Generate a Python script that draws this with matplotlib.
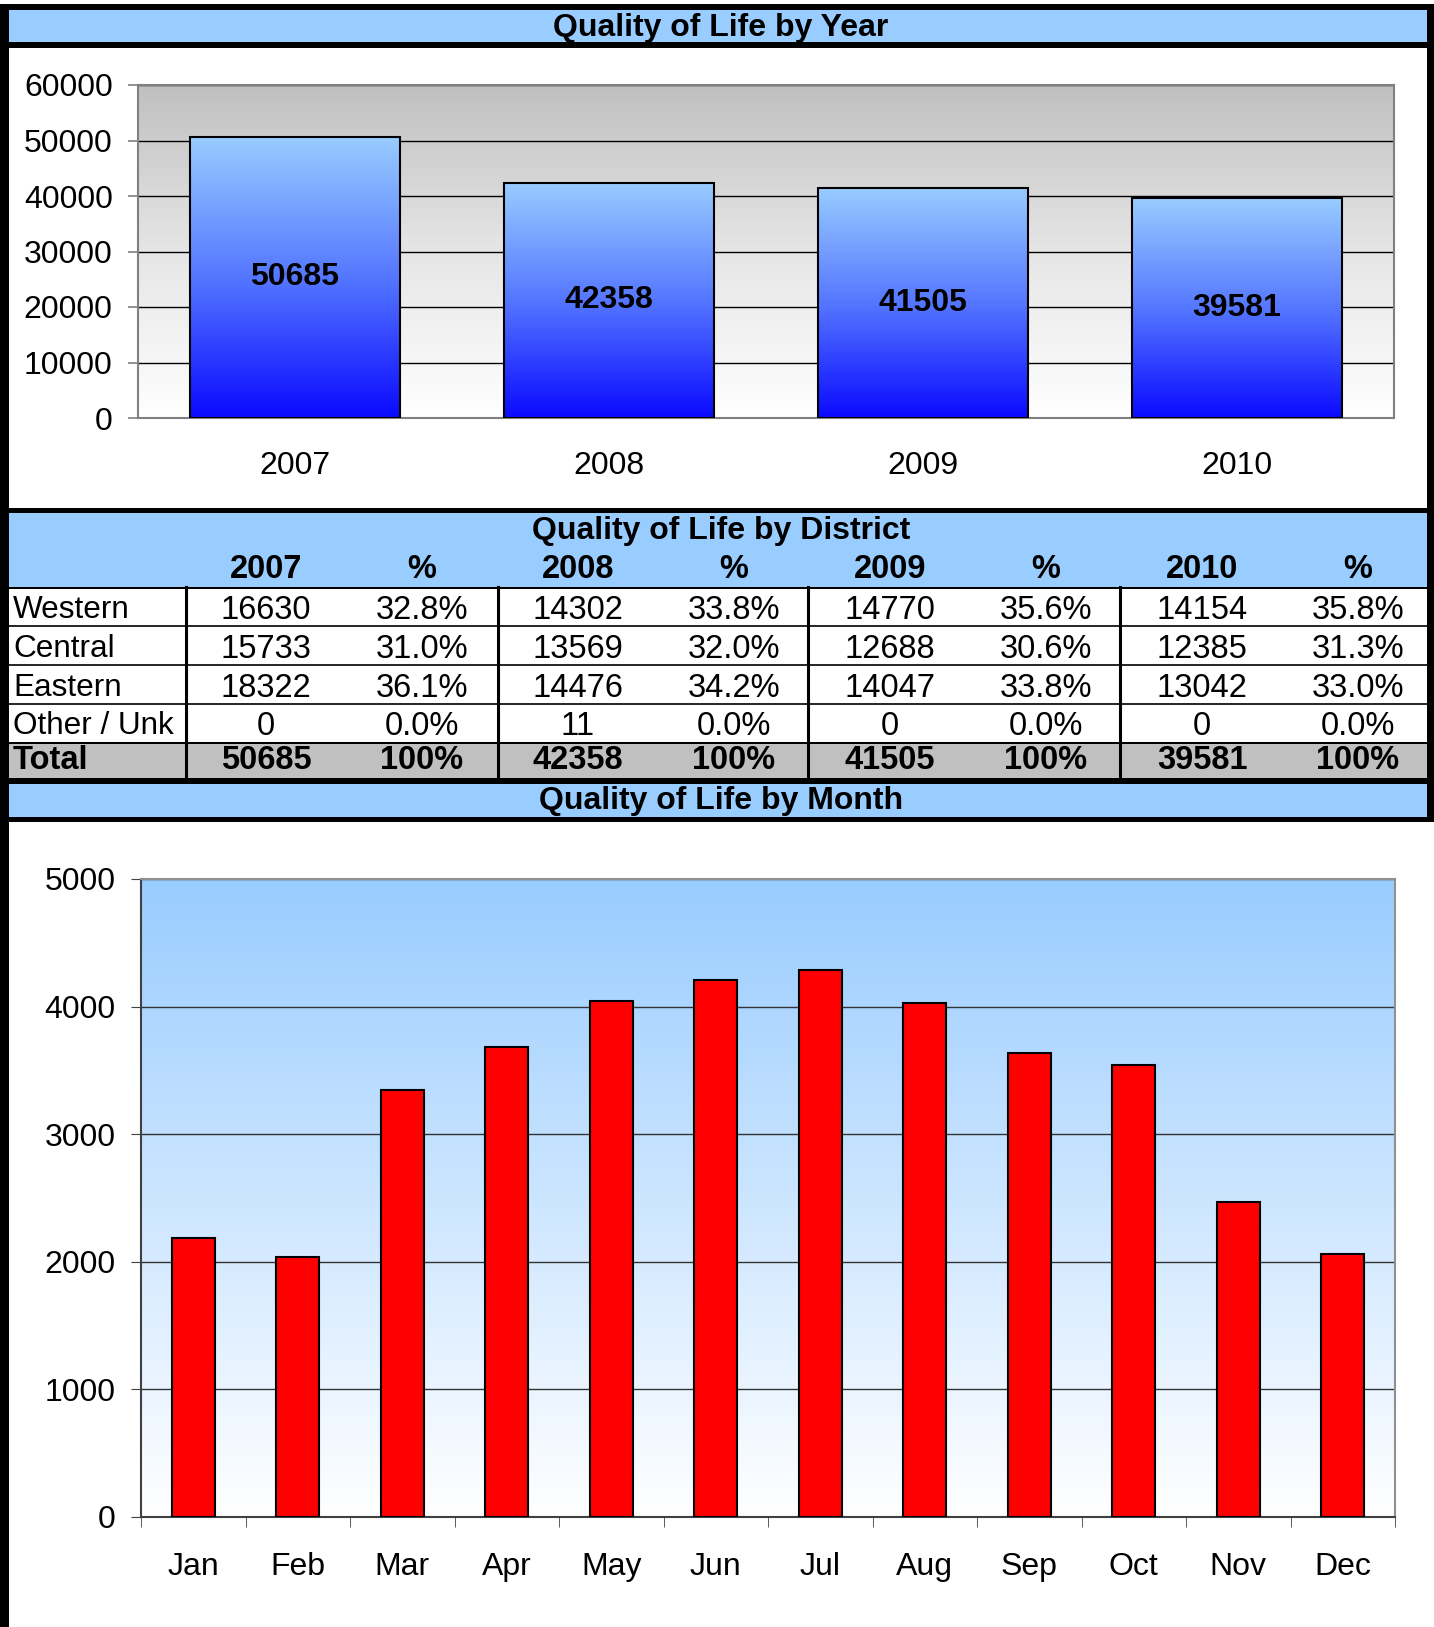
import matplotlib
matplotlib.use("Agg")
import matplotlib.pyplot as plt
import numpy as np
from matplotlib.colors import LinearSegmentedColormap
from matplotlib.patches import Rectangle

plt.rcParams['font.family'] = ['Liberation Sans', 'DejaVu Sans']

# data
years = ['2007', '2008', '2009', '2010']
year_totals = [50685, 42358, 41505, 39581]

districts = ['Western', 'Central', 'Eastern', 'Other / Unk']
western = [16630, 14302, 14770, 14154]
central = [15733, 13569, 12688, 12385]
eastern = [18322, 14476, 14047, 13042]
other = [0, 11, 0, 0]
western_pct = [32.8, 33.8, 35.6, 35.8]
central_pct = [31.0, 32.0, 30.6, 31.3]
eastern_pct = [36.1, 34.2, 33.8, 33.0]
other_pct = [0.0, 0.0, 0.0, 0.0]

months = ['Jan', 'Feb', 'Mar', 'Apr', 'May', 'Jun',
          'Jul', 'Aug', 'Sep', 'Oct', 'Nov', 'Dec']
month_counts = [2190, 2040, 3350, 3680, 4040, 4210, 4290, 4030, 3640, 3540, 2470, 2065]

W, H = 1434, 1627
FS = 23
TFS = 23.5
HDR = '#99ccff'
fig = plt.figure(figsize=(W / 100, H / 100), dpi=100)


def frac(x0, y0, x1, y1):
    return [x0 / W, 1 - y1 / H, (x1 - x0) / W, (y1 - y0) / H]


# background frame, drawn in pixel units
bg = fig.add_axes([0, 0, 1, 1])
bg.set_xlim(0, W)
bg.set_ylim(H, 0)
bg.axis('off')


def box(x0, y0, x1, y1, color):
    bg.add_patch(Rectangle((x0, y0), x1 - x0, y1 - y0, facecolor=color, edgecolor='none'))


# year header + top panel
box(0, 4, W, 48, 'black')
box(9, 10, 1427, 42, HDR)
box(0, 48, 9, 508, 'black')
box(1427, 48, W, 508, 'black')
bg.text(721, 28, 'Quality of Life by Year', ha='center', va='center',
        fontsize=FS, fontweight='bold')

# district table
box(0, 508, W, 822, 'black')
box(9, 513, 1427, 587, HDR)
box(9, 589, 1427, 742, 'white')
box(9, 744, 1427, 778, '#c0c0c0')
box(9, 784, 1427, 817, HDR)
for yl in [626, 665, 704]:
    bg.plot([9, 1427], [yl, yl], color='black', lw=1.2)
for xl in [186, 498, 808, 1120]:
    bg.plot([xl, xl], [587, 778], color='black', lw=2.2)

bg.text(721, 531, 'Quality of Life by District', ha='center', va='center',
        fontsize=FS, fontweight='bold')
col_x = [266 + 156 * i for i in range(8)]
for i, yr in enumerate(years):
    bg.text(col_x[2 * i], 570, yr, ha='center', va='center', fontsize=TFS, fontweight='bold')
    bg.text(col_x[2 * i + 1], 570, '%', ha='center', va='center', fontsize=TFS, fontweight='bold')

row_y = [610, 649, 688, 726]
rows = [(western, western_pct), (central, central_pct),
        (eastern, eastern_pct), (other, other_pct)]
for r, (name, (vals, pcts)) in enumerate(zip(districts, rows)):
    bg.text(13, row_y[r], name, ha='left', va='center', fontsize=TFS - 0.8)
    for i in range(4):
        bg.text(col_x[2 * i], row_y[r], str(vals[i]), ha='center', va='center', fontsize=TFS)
        bg.text(col_x[2 * i + 1], row_y[r], '%.1f%%' % pcts[i], ha='center', va='center', fontsize=TFS)

bg.text(13, 760, 'Total', ha='left', va='center', fontsize=TFS, fontweight='bold')
for i in range(4):
    bg.text(col_x[2 * i], 760, str(year_totals[i]), ha='center', va='center',
            fontsize=TFS, fontweight='bold')
    bg.text(col_x[2 * i + 1], 760, '100%', ha='center', va='center',
            fontsize=TFS, fontweight='bold')

bg.text(721, 801, 'Quality of Life by Month', ha='center', va='center',
        fontsize=FS, fontweight='bold')

# bottom panel border
box(0, 822, 9, H, 'black')

grad = np.linspace(0, 1, 256).reshape(-1, 1)

# ---- chart 1: by year ----
ax1 = fig.add_axes(frac(138, 85, 1394, 418))
grey_cm = LinearSegmentedColormap.from_list('g', ['#c0c0c0', '#e6e6e6', '#ffffff'])
blue_cm = LinearSegmentedColormap.from_list('b', ['#99ccff', '#5577ff', '#0a0aff'])
ax1.imshow(grad, cmap=grey_cm, extent=[-0.5, 3.5, 0, 60000], aspect='auto', zorder=0)
bars = ax1.bar(range(4), year_totals, width=0.67, facecolor='none',
               edgecolor='black', lw=1.5, zorder=3)
for b in bars:
    ax1.imshow(grad, cmap=blue_cm, aspect='auto', zorder=2,
               extent=[b.get_x(), b.get_x() + b.get_width(), 0, b.get_height()])
ax1.bar_label(bars, labels=[str(v) for v in year_totals], label_type='center',
              fontsize=FS, fontweight='bold', zorder=4)
ax1.set_xlim(-0.5, 3.5)
ax1.set_ylim(0, 60000)
ax1.set_yticks(range(0, 60001, 10000))
ax1.set_xticks(range(4))
ax1.set_xticklabels(years)
ax1.set_axisbelow(True)
ax1.grid(axis='y', color='black', lw=1)
for s in ax1.spines.values():
    s.set_color('#808080')
    s.set_linewidth(1.5)
ax1.tick_params(axis='y', length=7.2, color='#808080', width=1.2, pad=11, labelsize=FS)
ax1.tick_params(axis='x', length=0, pad=24, labelsize=FS)

# ---- chart 2: by month ----
ax2 = fig.add_axes(frac(141, 879, 1395, 1517))
sky_cm = LinearSegmentedColormap.from_list('s', [HDR, '#ffffff'])
ax2.imshow(grad, cmap=sky_cm, extent=[-0.5, 11.5, 0, 5000], aspect='auto', zorder=0)
ax2.bar(range(12), month_counts, width=0.41, color='#ff0000',
        edgecolor='black', lw=1.5, zorder=3)
ax2.set_xlim(-0.5, 11.5)
ax2.set_ylim(0, 5000)
ax2.set_yticks(range(0, 5001, 1000))
ax2.set_xticks(range(12))
ax2.set_xticklabels(months)
ax2.set_xticks(np.arange(-0.5, 12, 1), minor=True)
ax2.set_axisbelow(True)
ax2.grid(axis='y', color='#333333', lw=1)
ax2.spines['left'].set_color('#404040')
ax2.spines['bottom'].set_color('#404040')
ax2.spines['top'].set_color('#909090')
ax2.spines['right'].set_color('#909090')
for s in ax2.spines.values():
    s.set_linewidth(1.5)
ax2.tick_params(axis='y', length=7.2, color='#404040', pad=11, labelsize=FS)
ax2.tick_params(axis='x', which='major', length=0, pad=25, labelsize=FS)
ax2.tick_params(axis='x', which='minor', length=7.2, color='#404040')

fig.savefig('out.png', dpi=100)
